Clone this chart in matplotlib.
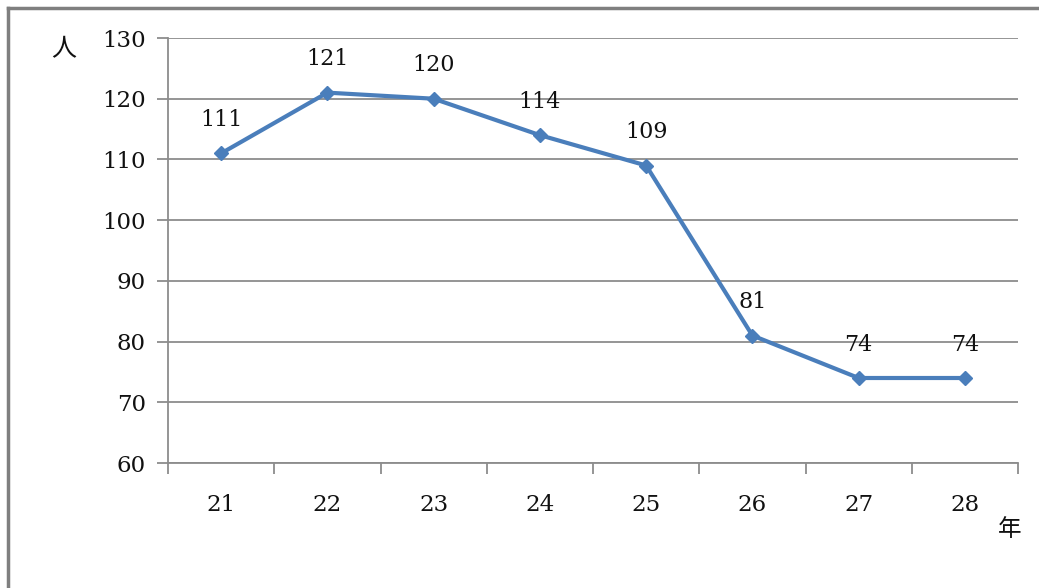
import matplotlib
matplotlib.use("Agg")
import matplotlib.pyplot as plt
from matplotlib.lines import Line2D

years = ["21", "22", "23", "24", "25", "26", "27", "28"]
counts = [111, 121, 120, 114, 109, 81, 74, 74]
y_ticks = [60, 70, 80, 90, 100, 110, 120, 130]

plt.rcParams["font.family"] = ["DejaVu Serif", "Noto Sans CJK JP"]

W, H = 1039, 588
fig = plt.figure(figsize=(W / 100, H / 100), dpi=100)
ax = fig.add_axes([168 / W, 1 - 463 / H, (1018 - 168) / W, (463 - 38) / H])

x = list(range(len(years)))
line_color = "#4a7ebb"
grid_color = "#8c8c8c"
text_color = "#111111"

ax.plot(x, counts, color=line_color, lw=3, marker="D", ms=7.5,
        markerfacecolor=line_color, markeredgecolor=line_color, zorder=3)

for xi, v in zip(x, counts):
    ax.annotate(str(v), (xi, v), xytext=(0, 16), textcoords="offset points",
                ha="center", va="bottom", fontsize=16, color=text_color)

ax.set_xlim(-0.5, len(years) - 0.5)
ax.set_ylim(60, 130)
ax.set_yticks(y_ticks)
ax.set_yticklabels([str(t) for t in y_ticks], fontsize=16.5, color=text_color)
ax.yaxis.grid(True, color=grid_color, lw=1.3)
ax.set_axisbelow(True)

# tick marks at category boundaries, labels at centres
ax.set_xticks([i - 0.5 for i in range(len(years) + 1)])
ax.set_xticklabels([])
ax.set_xticks(x, minor=True)
ax.set_xticklabels(years, minor=True, fontsize=16.5, color=text_color)
ax.tick_params(axis="x", which="major", length=8, width=1.3, color=grid_color, direction="out")
ax.tick_params(axis="x", which="minor", length=0, pad=22)
ax.tick_params(axis="y", length=8, width=1.3, color=grid_color, direction="out", pad=8)

for side in ["top", "right"]:
    ax.spines[side].set_visible(False)
for side in ["left", "bottom"]:
    ax.spines[side].set_color(grid_color)
    ax.spines[side].set_linewidth(1.3)

fig.text(64 / W, 1 - 50 / H, "人", fontsize=18, ha="center", va="center", color=text_color)
fig.text(1010 / W, 1 - 530 / H, "年", fontsize=17, ha="center", va="center", color=text_color)

# outer frame (top and left edges)
frame_color = "#7f7f7f"
fig.add_artist(Line2D([8 / W, 1.0], [1 - 8 / H, 1 - 8 / H], color=frame_color, lw=2.5,
                      transform=fig.transFigure))
fig.add_artist(Line2D([8 / W, 8 / W], [1 - 8 / H, 0.0], color=frame_color, lw=2.5,
                      transform=fig.transFigure))

fig.savefig("out.png", dpi=100)
